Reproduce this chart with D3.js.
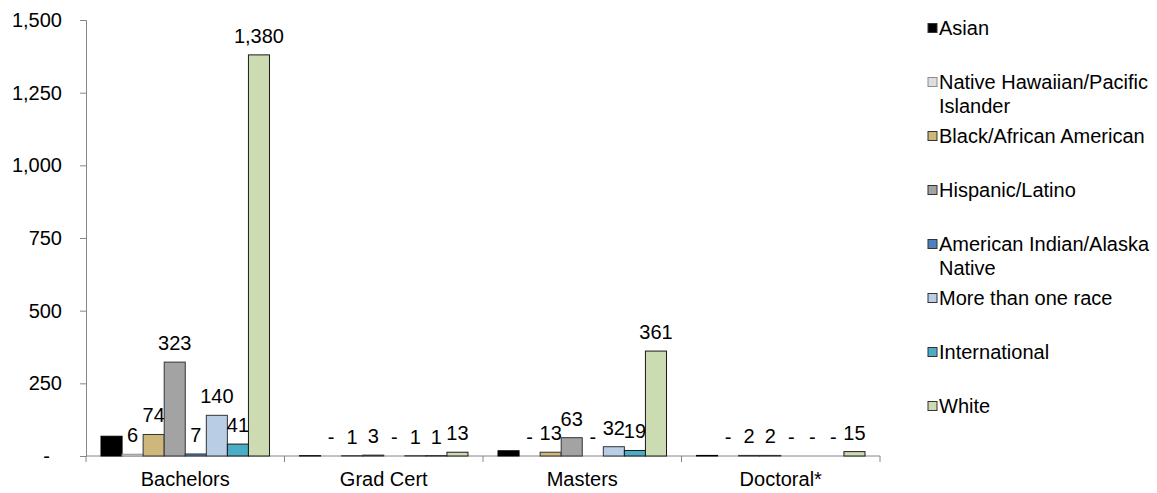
<!DOCTYPE html>
<html>
<head>
<meta charset="utf-8">
<script src="https://cdn.jsdelivr.net/npm/d3@7"></script>
<style>
  html, body { margin: 0; padding: 0; background: #fff; }
  svg { display: block; font-family: "Liberation Sans", Arial, sans-serif; }
</style>
</head>
<body>
<svg id="chart" width="1157" height="493"></svg>
<script>
// ---- data ----
const categories = ["Bachelors", "Grad Cert", "Masters", "Doctoral*"];
const seriesNames = [
  "Asian",
  "Native Hawaiian/Pacific Islander",
  "Black/African American",
  "Hispanic/Latino",
  "American Indian/Alaska Native",
  "More than one race",
  "International",
  "White"
];
const asian    = [68, 1, 18, 2];
const nhpi     = [6, 0, 0, 0];
const black    = [74, 1, 13, 2];
const hispanic = [323, 3, 63, 2];
const aian     = [7, 0, 0, 0];
const multi    = [140, 1, 32, 0];
const intl     = [41, 1, 19, 0];
const white    = [1380, 13, 361, 15];
const seriesValues = [asian, nhpi, black, hispanic, aian, multi, intl, white];
const showLabels = [false, true, true, true, true, true, true, true];
const yTicks = [0, 250, 500, 750, 1000, 1250, 1500];

const colors = ["#000000", "#dedede", "#ceb77a", "#a3a3a3", "#4f81bd", "#b9cde5", "#4bacc6", "#ccdbb2"];
const strokes = ["#000000", "#8c8c8c", "#333333", "#333333", "#333333", "#333333", "#1a1a1a", "#1a1a1a"];

// ---- layout ----
const FONT = 20;
const plot = { left: 86, right: 880, top: 20, bottom: 456 };
const svg = d3.select("#chart");

const x0 = d3.scaleBand().domain(categories).range([plot.left, plot.right]).padding(0);
const groupPad = 15;
const x1 = d3.scaleBand().domain(d3.range(seriesNames.length))
  .range([groupPad, x0.bandwidth() - groupPad]).padding(0);
const y = d3.scaleLinear().domain([0, 1500]).range([plot.bottom, plot.top]);

const axisColor = "#868686";
const fmt = d3.format(",");
const labelFmt = v => v === 0 ? "-" : fmt(v);

// y axis
const yAxis = svg.append("g").attr("transform", `translate(${plot.left},0)`)
  .call(d3.axisLeft(y).tickValues(yTicks).tickSize(6).tickPadding(18)
    .tickFormat(v => v === 0 ? "-" : fmt(v)));
yAxis.select(".domain").attr("stroke", axisColor);
yAxis.selectAll(".tick line").attr("stroke", axisColor);
yAxis.selectAll(".tick text").attr("font-size", FONT).attr("fill", "#000")
  .attr("font-family", "Liberation Sans, Arial, sans-serif")
  .attr("dx", d => d === 0 ? -12 : 0);

// x axis
const boundaries = categories.map(c => x0(c)).concat([plot.right]);
const xg = svg.append("g");
xg.append("line").attr("x1", plot.left).attr("x2", plot.right)
  .attr("y1", plot.bottom).attr("y2", plot.bottom).attr("stroke", axisColor);
xg.selectAll("line.tk").data(boundaries).enter().append("line").attr("class", "tk")
  .attr("x1", d => d).attr("x2", d => d)
  .attr("y1", plot.bottom).attr("y2", plot.bottom + 6).attr("stroke", axisColor);
xg.selectAll("text").data(categories).enter().append("text")
  .attr("x", d => x0(d) + x0.bandwidth() / 2)
  .attr("y", 486)
  .attr("text-anchor", "middle").attr("font-size", FONT).text(d => d);

// bars + labels, series by series
seriesNames.forEach((name, si) => {
  const g = svg.append("g");
  const vals = seriesValues[si];
  g.selectAll("rect").data(categories).enter().append("rect")
    .attr("x", (c) => x0(c) + x1(si))
    .attr("width", x1.bandwidth())
    .attr("y", (c, i) => y(vals[i]))
    .attr("height", (c, i) => Math.max(0, y(0) - y(vals[i])))
    .attr("fill", colors[si])
    .attr("stroke", strokes[si]).attr("stroke-width", 1);
  if (showLabels[si]) {
    g.selectAll("text").data(categories).enter().append("text")
      .attr("x", (c) => x0(c) + x1(si) + x1.bandwidth() / 2)
      .attr("y", (c, i) => y(vals[i]) - 12)
      .attr("text-anchor", "middle").attr("font-size", FONT).attr("fill", "#000")
      .text((c, i) => labelFmt(vals[i]));
  }
});

// legend
const lg = svg.append("g");
const swX = 928, swS = 9, txX = 939, slot0 = 28, slotStep = 54, lineH = 24;
const maxW = 1157 - txX - 2;
seriesNames.forEach((name, si) => {
  const cy = slot0 + slotStep * si;
  lg.append("rect").attr("x", swX).attr("y", cy - swS / 2).attr("width", swS).attr("height", swS)
    .attr("fill", colors[si]).attr("stroke", si === 1 ? "#8c8c8c" : "#333").attr("stroke-width", 1);
  const t = lg.append("text").attr("x", txX).attr("y", cy).attr("dy", "0.35em").attr("font-size", FONT);
  // word wrap
  const words = name.split(" ");
  let line = [], lineNo = 0;
  let tspan = t.append("tspan").attr("x", txX).attr("dy", "0.35em");
  t.attr("dy", null);
  words.forEach(w => {
    line.push(w);
    tspan.text(line.join(" "));
    if (tspan.node().getComputedTextLength() > maxW && line.length > 1) {
      line.pop();
      tspan.text(line.join(" "));
      line = [w];
      lineNo++;
      tspan = t.append("tspan").attr("x", txX).attr("dy", lineH).text(w);
    }
  });
});
</script>
</body>
</html>
